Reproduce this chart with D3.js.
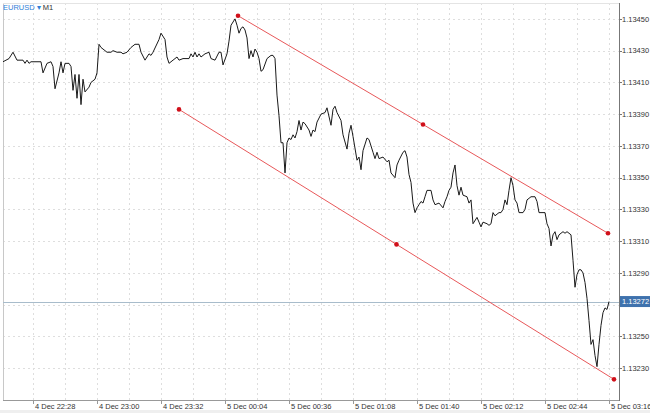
<!DOCTYPE html>
<html><head><meta charset="utf-8">
<script src="https://cdn.jsdelivr.net/npm/d3@7"></script>
<style>
body{margin:0;background:#fff}
svg{display:block}
text{font-family:"Liberation Sans",Arial,Helvetica,sans-serif}
</style>
</head><body>
<svg id="chart" width="650" height="413"></svg>
<script>
// ---- data ----
const symbolName = "EURUSD";
const timeframe = "M1";
const startLabel = "4 Dec 22:13";   // left edge of the chart
const endLabel = "5 Dec 03:21";     // right edge of the chart
const priceDomain = [1.13210, 1.13460];

// minute offsets from startLabel and close prices (M1)
const minutes = [0,3,5,7,10,11,12,13,14,17,19,20,22,24,25,26,28,29,30,31,33,34,35,36,37,38,39,40,41,43,44,46,47,48,49,52,54,55,57,59,60,62,64,66,68,69,71,73,74,75,78,79,81,82,83,85,87,88,90,93,94,95,96,97,98,99,101,103,104,106,108,109,110,112,113,114,116,117,118,119,120,121,122,123,124,125,126,127,128,129,130,132,134,135,136,137,138,139,140,141,142,143,144,145,146,147,148,149,150,151,153,154,155,156,157,159,161,162,164,165,166,167,169,170,172,173,174,175,177,178,179,180,182,183,185,186,187,188,190,192,193,194,196,197,198,200,201,202,203,204,205,206,207,208,209,210,211,212,214,215,216,218,220,221,222,223,224,225,226,227,228,229,230,232,233,234,235,237,238,239,240,242,243,244,245,246,248,249,250,251,252,253,254,255,256,257,258,260,261,262,264,266,267,268,270,271,272,273,274,275,276,277,278,279,280,281,282,283,284,285,286,287,288,289,290,291,292,293,294,295,296,297,298,299,300,301,302,303];
const closes = [1.13423,1.13425,1.13429,1.13424,1.13424,1.13422,1.13424,1.13422,1.13423,1.13423,1.13423,1.13416,1.13422,1.13423,1.13420,1.13406,1.13416,1.13423,1.13416,1.13422,1.13422,1.13420,1.13405,1.13415,1.13400,1.13415,1.13396,1.13412,1.13404,1.13407,1.13410,1.13412,1.13416,1.13434,1.13432,1.13429,1.13429,1.13430,1.13429,1.13429,1.13428,1.13429,1.13432,1.13434,1.13434,1.13429,1.13424,1.13428,1.13427,1.13429,1.13437,1.13441,1.13437,1.13426,1.13422,1.13424,1.13426,1.13424,1.13425,1.13425,1.13428,1.13426,1.13429,1.13426,1.13428,1.13426,1.13428,1.13429,1.13425,1.13424,1.13429,1.13429,1.13421,1.13428,1.13436,1.13446,1.13450,1.13446,1.13441,1.13444,1.13445,1.13443,1.13438,1.13425,1.13430,1.13426,1.13431,1.13429,1.13425,1.13417,1.13418,1.13425,1.13427,1.13427,1.13425,1.13402,1.13389,1.13372,1.13372,1.13353,1.13372,1.13375,1.13374,1.13377,1.13375,1.13379,1.13386,1.13380,1.13385,1.13384,1.13380,1.13376,1.13380,1.13379,1.13385,1.13390,1.13391,1.13394,1.13383,1.13393,1.13395,1.13391,1.13386,1.13377,1.13368,1.13378,1.13383,1.13376,1.13361,1.13363,1.13355,1.13367,1.13375,1.13374,1.13366,1.13362,1.13366,1.13362,1.13363,1.13360,1.13361,1.13353,1.13350,1.13358,1.13361,1.13366,1.13367,1.13363,1.13352,1.13347,1.13334,1.13328,1.13331,1.13333,1.13335,1.13334,1.13338,1.13342,1.13342,1.13336,1.13333,1.13334,1.13331,1.13335,1.13338,1.13342,1.13344,1.13353,1.13358,1.13345,1.13339,1.13344,1.13339,1.13338,1.13334,1.13336,1.13321,1.13325,1.13322,1.13319,1.13322,1.13321,1.13320,1.13321,1.13328,1.13326,1.13328,1.13328,1.13330,1.13336,1.13333,1.13342,1.13350,1.13345,1.13336,1.13334,1.13328,1.13328,1.13330,1.13336,1.13338,1.13338,1.13335,1.13328,1.13328,1.13328,1.13321,1.13318,1.13307,1.13314,1.13316,1.13311,1.13314,1.13315,1.13316,1.13315,1.13316,1.13315,1.13314,1.13298,1.13281,1.13289,1.13292,1.13292,1.13290,1.13284,1.13274,1.13260,1.13245,1.13248,1.13238,1.13231,1.13245,1.13257,1.13265,1.13268,1.13267,1.13272];

const priceTicks = [1.13230,1.13250,1.13270,1.13290,1.13310,1.13330,1.13350,1.13370,1.13390,1.13410,1.13430,1.13450];
const timeTickLabels = ["4 Dec 22:28","4 Dec 23:00","4 Dec 23:32","5 Dec 00:04","5 Dec 00:36","5 Dec 01:08","5 Dec 01:40","5 Dec 02:12","5 Dec 02:44","5 Dec 03:16"];
const gridStepMinutes = 16;
const lastPrice = 1.13272;

// trend lines: [start, end] in minute offsets and prices
const upperLineMinutes = [117.5, 302.5];
const upperLinePrices = [1.13452, 1.13315];
const lowerLineMinutes = [88, 305.5];
const lowerLinePrices = [1.13393, 1.13223];

// ---- drawing ----
const W = 650, H = 413;
const plot = {left: 3, top: 3, right: 619, bottom: 400};
const parse = d3.timeParse("%-d %b %H:%M");
const t0 = parse(startLabel), t1 = parse(endLabel);
const toDate = m => new Date(t0.getTime() + m * 60000);

const x = d3.scaleTime().domain([t0, t1]).range([plot.left, plot.right]);
const y = d3.scaleLinear().domain(priceDomain).range([plot.bottom, plot.top]);

const svg = d3.select("#chart");
svg.append("rect").attr("x",0).attr("y",0).attr("width",W).attr("height",H).attr("fill","#fff");
svg.append("rect").attr("x",0).attr("y",410).attr("width",W).attr("height",3).attr("fill","#efefef");

// grid
const firstTick = parse(timeTickLabels[0]);
const gridTimes = [];
for (let t = firstTick; t <= t1; t = d3.timeMinute.offset(t, gridStepMinutes)) gridTimes.push(t);
for (let t = d3.timeMinute.offset(firstTick, -gridStepMinutes); t >= t0; t = d3.timeMinute.offset(t, -gridStepMinutes)) gridTimes.push(t);

const grid = svg.append("g").attr("stroke","#dedede").attr("stroke-width",1).attr("stroke-dasharray","2,3");
grid.selectAll("line.v").data(gridTimes).join("line")
  .attr("x1", d => Math.round(x(d)) + 0.5).attr("x2", d => Math.round(x(d)) + 0.5)
  .attr("y1", plot.top).attr("y2", plot.bottom);
grid.selectAll("line.h").data(priceTicks).join("line")
  .attr("x1", plot.left).attr("x2", plot.right)
  .attr("y1", d => Math.round(y(d)) + 0.5).attr("y2", d => Math.round(y(d)) + 0.5);

// frame
svg.append("line").attr("x1",plot.left+0.5).attr("x2",plot.left+0.5).attr("y1",plot.top).attr("y2",plot.bottom).attr("stroke","#c8c8c8");
svg.append("line").attr("x1",plot.left).attr("x2",plot.right).attr("y1",plot.top+0.5).attr("y2",plot.top+0.5).attr("stroke","#e4e4e4");
svg.append("line").attr("x1",plot.left).attr("x2",plot.right).attr("y1",plot.bottom+0.5).attr("y2",plot.bottom+0.5).attr("stroke","#999");

// current price line
const yLast = Math.round(y(lastPrice)) + 0.5;
svg.append("line").attr("x1",plot.left).attr("x2",plot.right).attr("y1",yLast).attr("y2",yLast).attr("stroke","#a8bccb").attr("stroke-width",1);

// price line
const series = minutes.map((m,i) => ({t: toDate(m), p: closes[i]}));
svg.append("path").datum(series)
  .attr("fill","none").attr("stroke","#1a1a1a").attr("stroke-width",1).attr("stroke-linejoin","round")
  .attr("d", d3.line().x(d => x(d.t)).y(d => y(d.p)));

// trend lines
function trend(ms, ps) {
  const pts = ms.map((m,i) => ({t: toDate(m), p: ps[i]}));
  const mid = {t: toDate((ms[0]+ms[1])/2), p: (ps[0]+ps[1])/2};
  svg.append("line")
    .attr("x1", x(pts[0].t)).attr("y1", y(pts[0].p))
    .attr("x2", x(pts[1].t)).attr("y2", y(pts[1].p))
    .attr("stroke","#e8585a").attr("stroke-width",1);
  svg.selectAll(null).data([pts[0], mid, pts[1]]).join("circle")
    .attr("cx", d => x(d.t)).attr("cy", d => y(d.p)).attr("r", 2.3).attr("fill","#d0101a");
}
trend(upperLineMinutes, upperLinePrices);
trend(lowerLineMinutes, lowerLinePrices);

// right axis (labels hidden where the last-price box sits)
svg.append("line").attr("x1",plot.right+0.5).attr("x2",plot.right+0.5).attr("y1",plot.top).attr("y2",plot.bottom+1).attr("stroke","#777");
const visibleTicks = priceTicks.filter(d => Math.abs(y(d) - y(lastPrice)) > 10);
const ya = svg.append("g");
ya.selectAll("line").data(visibleTicks).join("line")
  .attr("x1", plot.right).attr("x2", plot.right+3)
  .attr("y1", d => Math.round(y(d))+0.5).attr("y2", d => Math.round(y(d))+0.5).attr("stroke","#777");
ya.selectAll("text").data(visibleTicks).join("text")
  .attr("x", plot.right+3).attr("y", d => y(d)).attr("dy","0.35em")
  .attr("font-size", 7.5).attr("fill","#333").text(d => d3.format(".5f")(d));

// last price label
svg.append("rect").attr("x", plot.right+1).attr("y", y(lastPrice)-5.5).attr("width", W-plot.right-1).attr("height", 11).attr("fill","#3f72ad");
svg.append("text").attr("x", plot.right+3).attr("y", y(lastPrice)).attr("dy","0.35em")
  .attr("font-size",7.5).attr("fill","#fff").text(d3.format(".5f")(lastPrice));

// bottom axis
const xa = svg.append("g");
const tickDates = timeTickLabels.map(parse);
xa.selectAll("line").data(tickDates).join("line")
  .attr("x1", d => Math.round(x(d))+0.5).attr("x2", d => Math.round(x(d))+0.5)
  .attr("y1", plot.bottom+1).attr("y2", plot.bottom+4).attr("stroke","#999");
xa.selectAll("text").data(timeTickLabels).join("text")
  .attr("x", (d,i) => x(tickDates[i]) + 2).attr("y", 409)
  .attr("font-size", 7.5).attr("fill","#333").text(d => d);

// title
const title = svg.append("text").attr("x", 3).attr("y", 10).attr("font-size", 7.5);
title.append("tspan").attr("fill","#2f7fd8").text(symbolName + " \u25BE ");
title.append("tspan").attr("fill","#333").text(timeframe);
</script>
</body></html>
